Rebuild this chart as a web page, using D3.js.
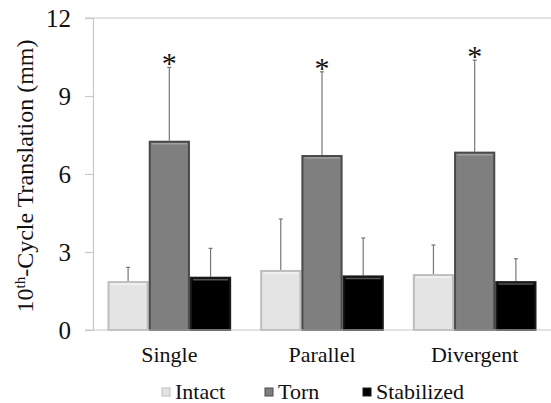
<!DOCTYPE html>
<html>
<head>
<meta charset="utf-8">
<script src="https://cdn.jsdelivr.net/npm/d3@7"></script>
<style>
  body { margin: 0; background: #fff; }
</style>
</head>
<body>
<svg id="canvas" width="551" height="403"><text id="ytitle" transform="translate(33, 176) rotate(-90)" text-anchor="middle" fill="#111" style="font-family:'Liberation Serif', serif; font-size:24px">10<tspan dy="-8" style="font-size:15px">th</tspan><tspan dy="8">-Cycle Translation (mm)</tspan></text></svg>
<script>
let groups = ['Single', 'Parallel', 'Divergent']
let series = ['Intact', 'Torn', 'Stabilized']
let intact = [1.88, 2.31, 2.15]
let torn = [7.28, 6.73, 6.86]
let stabilized = [2.05, 2.10, 1.88]
let intactErr = [0.53, 1.96, 1.12]
let tornErr = [2.82, 3.2, 3.52]
let stabilizedErr = [1.09, 1.44, 0.86]
let yTicks = [0, 3, 6, 9, 12]

let width = 551
let height = 403
let plotLeft = 93
let plotRight = 551
let plotTop = 18
let plotBottom = 330
let fontFam = "'Liberation Serif', serif"

let fills = { Intact: '#e4e4e4', Torn: '#7f7f7f', Stabilized: '#000000' }
let strokes = { Intact: '#bdbdbd', Torn: '#4a4a4a', Stabilized: '#1a1a1a' }
let highlights = { Intact: '#f4f4f4', Torn: '#a0a0a0', Stabilized: '#555555' }

let values = []
groups.forEach((g, i) => {
    values.push({ group: g, series: 'Intact', value: intact[i], err: intactErr[i] })
    values.push({ group: g, series: 'Torn', value: torn[i], err: tornErr[i] })
    values.push({ group: g, series: 'Stabilized', value: stabilized[i], err: stabilizedErr[i] })
})

let canvas = d3.select('#canvas')
    .attr('width', width)
    .attr('height', height)

let xScale = d3.scaleBand()
    .domain(groups)
    .range([plotLeft, plotRight])
    .paddingInner(0.19)
    .paddingOuter(0.095)

let subScale = d3.scaleBand()
    .domain(series)
    .range([0, xScale.bandwidth()])

let yScale = d3.scaleLinear()
    .domain([0, 12])
    .range([plotBottom, plotTop])

// top border line
canvas.append('line')
    .attr('x1', plotLeft - 8).attr('x2', plotRight)
    .attr('y1', yScale(12)).attr('y2', yScale(12))
    .attr('stroke', '#c8c8c8').attr('stroke-width', 1.2)

// y axis
let yAxis = d3.axisLeft(yScale)
    .tickValues(yTicks)
    .tickSize(8)
    .tickPadding(14)

let yg = canvas.append('g')
    .attr('transform', `translate(${plotLeft}, 0)`)
    .call(yAxis)
yg.attr('font-family', fontFam).attr('font-size', null)
yg.select('.domain').attr('stroke', '#c8c8c8').attr('stroke-width', 1.2)
yg.selectAll('.tick line').attr('stroke', '#c8c8c8').attr('stroke-width', 1.2)
yg.selectAll('.tick text')
    .style('font-family', fontFam)
    .style('font-size', '25px')
    .attr('dy', '0.34em')
    .attr('fill', '#111')

// bars
let bars = canvas.selectAll('.bar')
    .data(values)
    .enter()
    .append('g')
    .attr('class', 'bar')
    .attr('transform', (d) => `translate(${xScale(d.group) + subScale(d.series)}, 0)`)

// error bars (upper only)
bars.append('line')
    .attr('x1', subScale.bandwidth() / 2)
    .attr('x2', subScale.bandwidth() / 2)
    .attr('y1', (d) => yScale(d.value))
    .attr('y2', (d) => yScale(d.value + d.err))
    .attr('stroke', '#777')
    .attr('stroke-width', 1.2)

bars.append('line')
    .attr('x1', subScale.bandwidth() / 2 - 2)
    .attr('x2', subScale.bandwidth() / 2 + 2)
    .attr('y1', (d) => yScale(d.value + d.err))
    .attr('y2', (d) => yScale(d.value + d.err))
    .attr('stroke', '#777')
    .attr('stroke-width', 1.2)

bars.append('rect')
    .attr('x', 1)
    .attr('y', (d) => yScale(d.value) + 1)
    .attr('width', subScale.bandwidth() - 2)
    .attr('height', (d) => yScale(0) - yScale(d.value) - 1)
    .attr('fill', (d) => fills[d.series])
    .attr('stroke', (d) => strokes[d.series])
    .attr('stroke-width', 2)

bars.append('line')
    .attr('x1', 3)
    .attr('x2', subScale.bandwidth() - 3)
    .attr('y1', (d) => yScale(d.value) + 3)
    .attr('y2', (d) => yScale(d.value) + 3)
    .attr('stroke', (d) => highlights[d.series])
    .attr('stroke-width', 1.5)

// asterisks above torn bars
bars.filter((d) => d.series == 'Torn')
    .append('text')
    .attr('x', subScale.bandwidth() / 2)
    .attr('y', (d) => yScale(d.value + d.err) + 6)
    .attr('text-anchor', 'middle')
    .style('font-family', fontFam)
    .style('font-size', '30px')
    .attr('fill', '#111')
    .text('*')

// x axis
canvas.append('line')
    .attr('x1', plotLeft - 8).attr('x2', plotRight)
    .attr('y1', yScale(0)).attr('y2', yScale(0))
    .attr('stroke', '#c8c8c8').attr('stroke-width', 1.2)

canvas.selectAll('.xlabel')
    .data(groups)
    .enter()
    .append('text')
    .attr('class', 'xlabel')
    .attr('x', (d) => xScale(d) + xScale.bandwidth() / 2)
    .attr('y', 362)
    .attr('text-anchor', 'middle')
    .style('font-family', fontFam)
    .style('font-size', '22px')
    .attr('fill', '#111')
    .text((d) => d)

// legend
let legendX = [162, 265, 363]
let legend = canvas.selectAll('.legend')
    .data(series)
    .enter()
    .append('g')
    .attr('class', 'legend')
    .attr('transform', (d, i) => `translate(${legendX[i]}, 392)`)

legend.append('rect')
    .attr('x', 0).attr('y', -4)
    .attr('width', 8).attr('height', 8)
    .attr('fill', (d) => fills[d])
    .attr('stroke', (d) => strokes[d])
    .attr('stroke-width', 1)

legend.append('text')
    .attr('x', 13)
    .attr('y', 7)
    .style('font-family', fontFam)
    .style('font-size', '22px')
    .attr('fill', '#111')
    .text((d) => d)
</script>
</body>
</html>
